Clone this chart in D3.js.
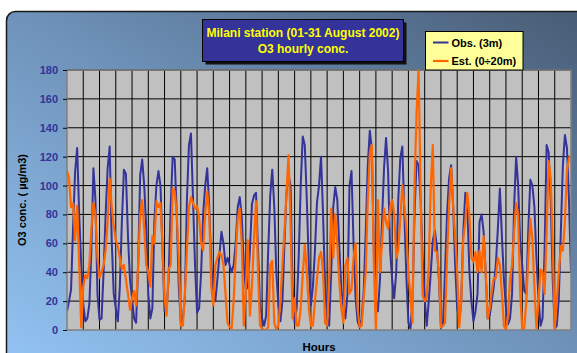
<!DOCTYPE html>
<html><head><meta charset="utf-8">
<script src="https://cdn.jsdelivr.net/npm/d3@7"></script>
<style>body{margin:0;background:#fff;} svg{display:block;font-family:"Liberation Sans",Arial,Helvetica,sans-serif;}</style>
</head><body><svg id="c" width="577" height="353"></svg>
<script>
// ---- data (3-hourly readings, hours 0..744) ----
const yTicks = [0, 20, 40, 60, 80, 100, 120, 140, 160, 180];
const titleLines = ["Milani station (01-31 August 2002)", "O3 hourly conc."];
const seriesNames = ["Obs. (3m)", "Est. (0\u00f720m)"];
const sampleStep = 3; // hours between readings
const obs = [
 13,20,28,72,110,126,80,45,   18,6,8,18,55,112,90,25,   7,8,40,80,112,127,62,25,
 15,6,30,75,111,108,65,35,    22,8,5,45,107,118,100,70, 25,8,15,75,100,110,100,55,
 13,15,35,85,120,118,80,30,   5,8,22,90,128,136,91,45,  12,15,40,80,100,112,85,45,
 22,20,35,52,68,60,45,50,     45,40,45,60,85,92,78,45,  28,30,55,87,93,95,55,17,
 8,3,10,55,93,111,85,40,      17,6,20,60,95,107,100,30, 5,15,50,100,134,128,90,45,
 17,30,55,88,100,120,80,30,   8,3,40,85,99,90,57,28,    17,8,25,100,110,60,22,6,
 2,8,27,68,114,138,125,55,    22,13,35,75,112,133,110,55, 35,22,40,90,119,127,80,36,
 5,1,20,80,117,114,90,50,     22,3,20,40,62,69,58,35,   2,3,40,80,105,114,86,45,
 15,6,20,68,95,85,40,20,      6,13,25,75,80,68,40,8,    10,20,30,45,70,98,65,35,
 15,4,8,25,85,120,100,60,     45,27,25,70,104,100,85,50, 22,3,8,55,128,123,91,35,
 1,3,22,68,114,135,126,90,    40
];
const est = [
 110,105,85,88,62,86,45,2,    30,38,36,45,70,88,80,50,  36,40,45,55,75,105,85,72,
 62,58,50,42,45,35,25,14,     22,27,17,45,80,90,70,45,  40,30,65,60,89,85,88,58,
 22,10,42,45,98,96,80,50,     3,3,25,55,85,92,88,84,    86,78,60,55,80,96,80,30,
 17,45,50,54,52,45,25,5,      2,1,20,50,77,84,60,3,     30,62,10,30,63,89,40,3,
 1,0,0,2,45,48,5,0,           3,20,45,68,95,121,75,8,   22,3,3,15,38,59,40,15,
 3,3,20,35,50,54,40,5,        3,35,84,50,80,60,33,15,   5,45,50,25,28,50,60,15,
 2,3,22,40,90,122,128,45,     0,90,40,60,84,75,70,85,   90,80,50,55,77,100,86,70,
 40,22,5,100,150,180,96,24,   20,22,45,100,128,55,54,40, 2,3,5,50,86,112,86,65,
 40,2,20,63,75,95,80,50,      47,54,40,55,40,65,40,8,   15,27,36,36,50,45,25,3,
 0,10,35,45,68,88,80,25,      1,1,20,50,77,63,30,1,     20,42,40,25,68,117,105,60,
 1,20,40,58,55,75,110,119,    121
];
const totalHours = 744;
const dayTicks = d3.range(0, totalHours + 1, 24);

// ---- layout ----
const svg = d3.select("#c");
const P = {l: 67, r: 571, t: 70, b: 330};
const x = d3.scaleLinear().domain([0, totalHours]).range([P.l, P.r]);
const y = d3.scaleLinear().domain([0, 180]).range([P.b, P.t]);

const defs = svg.append("defs");
const g = defs.append("linearGradient").attr("id", "bg")
  .attr("x1", 0).attr("y1", 1).attr("x2", 1).attr("y2", 0);
g.append("stop").attr("offset", 0).attr("stop-color", "#96c8f8");
g.append("stop").attr("offset", 0.5).attr("stop-color", "#6f93ba");
g.append("stop").attr("offset", 1).attr("stop-color", "#455870");
defs.append("clipPath").attr("id", "clip").append("rect")
  .attr("x", P.l).attr("y", P.t - 1).attr("width", P.r - P.l).attr("height", P.b - P.t + 1);

svg.append("rect").attr("x", 6.5).attr("y", 11.5).attr("width", 620).attr("height", 380)
  .attr("rx", 9).attr("fill", "url(#bg)").attr("stroke", "#1a1a1a").attr("stroke-width", 1.5);

// plot area
svg.append("rect").attr("x", P.l).attr("y", P.t).attr("width", P.r - P.l).attr("height", P.b - P.t)
  .attr("fill", "#c0c0c0");

// grid
svg.append("g").selectAll("line").data(yTicks.filter(d => d > 0)).join("line")
  .attr("x1", P.l).attr("x2", P.r).attr("y1", d => y(d)).attr("y2", d => y(d))
  .attr("stroke", "#000").attr("stroke-width", 1);
svg.append("g").selectAll("line").data(dayTicks.slice(1, -1)).join("line")
  .attr("x1", d => x(d)).attr("x2", d => x(d)).attr("y1", P.t).attr("y2", P.b)
  .attr("stroke", "#000").attr("stroke-width", 1);

// lines
const line = d3.line().x((d, i) => x(i * sampleStep)).y(d => y(d));
const lg = svg.append("g").attr("clip-path", "url(#clip)");
lg.append("path").datum(obs).attr("d", line).attr("fill", "none")
  .attr("stroke", "#333399").attr("stroke-width", 2).attr("stroke-linejoin", "round");
lg.append("path").datum(est).attr("d", line).attr("fill", "none")
  .attr("stroke", "#ff6600").attr("stroke-width", 2.2).attr("stroke-linejoin", "round");

// plot border
svg.append("rect").attr("x", P.l).attr("y", P.t).attr("width", P.r - P.l).attr("height", P.b - P.t)
  .attr("fill", "none").attr("stroke", "#808080").attr("stroke-width", 1.5);

// y axis
const ax = svg.append("g").attr("transform", `translate(${P.l},0)`)
  .call(d3.axisLeft(y).tickValues(yTicks).tickSize(4).tickPadding(5));
ax.select(".domain").remove();
ax.selectAll(".tick line").attr("stroke", "#000");
ax.selectAll(".tick text").attr("fill", "#333399").attr("font-size", 11)
  .attr("font-weight", "bold").attr("font-family", "'Liberation Sans',Arial,sans-serif");

// axis titles
svg.append("text").attr("transform", "translate(26,200) rotate(-90)")
  .attr("text-anchor", "middle").attr("font-size", 11).attr("font-weight", "bold")
  .attr("fill", "#000").text("O3 conc. ( \u00b5g/m3)");
svg.append("text").attr("x", (P.l + P.r) / 2).attr("y", 351)
  .attr("text-anchor", "middle").attr("font-size", 11.5).attr("font-weight", "bold")
  .attr("fill", "#000").text("Hours");

// title box
svg.append("rect").attr("x", 205.5).attr("y", 22.5).attr("width", 201).attr("height", 42).attr("fill", "#111");
svg.append("rect").attr("x", 202.5).attr("y", 19.5).attr("width", 201).attr("height", 42)
  .attr("fill", "#333399").attr("stroke", "#000").attr("stroke-width", 1);
svg.append("g").selectAll("text").data(titleLines).join("text")
  .attr("x", 303).attr("y", (d, i) => 37 + i * 16)
  .attr("text-anchor", "middle").attr("font-size", 12).attr("font-weight", "bold")
  .attr("fill", "#ffff00").text(d => d);

// legend
const L = svg.append("g");
L.append("rect").attr("x", 425.5).attr("y", 31.5).attr("width", 97.5).attr("height", 38.5)
  .attr("fill", "#ffff99").attr("stroke", "#000").attr("stroke-width", 1);
const colors = ["#333399", "#ff6600"];
seriesNames.forEach((n, i) => {
  const yy = 42.5 + i * 18.5;
  L.append("line").attr("x1", 433).attr("x2", 448.5).attr("y1", yy).attr("y2", yy)
    .attr("stroke", colors[i]).attr("stroke-width", i ? 2.2 : 2);
  L.append("text").attr("x", 451.5).attr("y", yy + 4).attr("font-size", 11)
    .attr("font-weight", "bold").attr("fill", "#000").text(n);
});
</script></body></html>
